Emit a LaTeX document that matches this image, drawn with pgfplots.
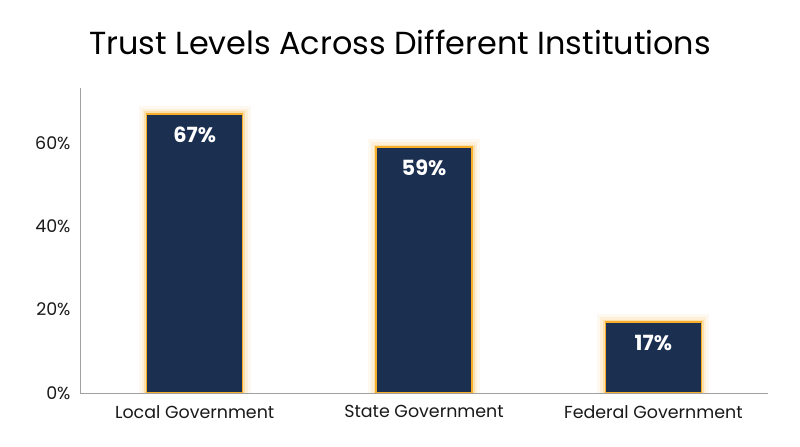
\documentclass[border=0pt]{standalone}
\usepackage{pgfplots}
\pgfplotsset{compat=1.18}
\usepackage{fontspec}
\setmainfont{Poppins}
\definecolor{navy}{HTML}{1B2F50}
\definecolor{glow}{HTML}{F7AE2A}
\definecolor{axisgray}{HTML}{A0A0A0}

\begin{document}
\begin{tikzpicture}
\useasboundingbox (0,0) rectangle (800bp,447bp);
\node[font=\fontsize{32}{36}\selectfont] at (400bp,405bp) {Trust Levels Across Different Institutions};
\begin{axis}[
  at={(80bp,54bp)}, anchor=south west,
  scale only axis, width=688bp, height=305bp,
  ybar, bar width=96bp, bar shift=0pt,
  xmin=-0.5, xmax=2.5, ymin=0, ymax=73.2,
  axis x line=bottom, axis y line=left,
  axis line style={axisgray, line width=0.8pt, -},
  xtick={0,1,2},
  xticklabels={Local Government, State Government, Federal Government},
  ytick={0,20,40,60},
  yticklabel={\pgfmathprintnumber{\tick}\%},
  major tick length=0pt,
  tick label style={font=\fontsize{17.5}{20}\selectfont, text=black!90},
  /pgf/number format/assume math mode=true,
  xticklabel style={yshift=-9bp},
  yticklabel style={xshift=-6bp},
]
\addplot[draw=glow, draw opacity=0.07, line width=16bp, fill=none, forget plot] coordinates {(0,67) (1,59) (2,17)};
\addplot[draw=glow, draw opacity=0.12, line width=10bp, fill=none, forget plot] coordinates {(0,67) (1,59) (2,17)};
\addplot[draw=glow, draw opacity=0.25, line width=5bp, fill=none, forget plot] coordinates {(0,67) (1,59) (2,17)};
\addplot[fill=navy, draw=glow, line width=1.6bp,
  nodes near coords={\pgfmathprintnumber{\pgfplotspointmeta}\%},
  every node near coord/.append style={anchor=north, yshift=-9bp, text=white,
    font=\bfseries\fontsize{21}{24}\selectfont}]
  coordinates {(0,67) (1,59) (2,17)};
\end{axis}
\end{tikzpicture}
\end{document}
